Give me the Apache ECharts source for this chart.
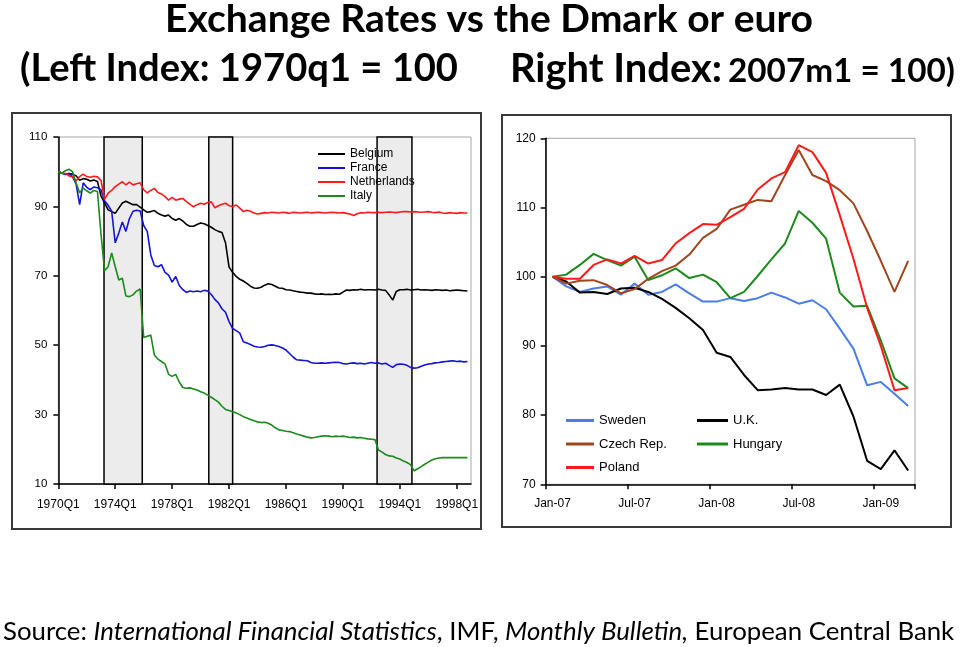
<!DOCTYPE html>
<html>
<head>
<meta charset="utf-8">
<script src="https://cdn.jsdelivr.net/npm/echarts@6/dist/echarts.min.js"></script>
<style>
html,body{margin:0;padding:0;background:#fff;}
#c{width:960px;height:647px;}
</style>
</head>
<body>
<div id="c"></div>
<script>
// ---------- LEFT CHART DATA (quarterly, 1970Q1 = 100) ----------
const leftTickLabels = ['1970Q1','1974Q1','1978Q1','1982Q1','1986Q1','1990Q1','1994Q1','1998Q1'];
const leftSeriesNames = ['Belgium','France','Netherlands','Italy'];
const belgium = [
 100,99.6,99.2,99.5,99.3,98.8,97.5,98.0,97.8,97.3,
 97.6,97.2,93.0,91.0,89.0,88.5,88.0,89.5,91.0,91.5,
 91.0,90.5,90.5,89.8,89.0,88.3,88.5,88.8,88.0,87.5,
 87.2,87.5,86.5,86.0,86.5,85.8,84.8,84.3,84.3,84.8,
 85.2,85.0,84.5,84.0,83.3,82.8,82.5,79.5,72.5,71.0,
 69.8,69.0,68.5,67.8,67.0,66.5,66.4,66.7,67.3,67.7,
 67.5,67.0,66.5,66.4,66.0,65.9,65.7,65.5,65.3,65.2,
 65.0,65.0,64.8,64.7,64.8,64.6,64.7,64.6,64.8,64.7,
 65.3,65.9,65.8,66.0,65.9,66.1,65.9,66.0,66.0,65.9,
 66.1,65.9,65.8,64.5,63.0,65.5,66.0,66.0,66.1,65.9,
 66.0,66.1,65.9,66.0,65.9,65.8,66.0,65.9,65.8,65.9,
 65.7,65.8,65.9,65.8,65.7,65.6];
const france = [
 100,99.6,99.3,99.5,98.6,96.5,90.5,96.8,95.5,94.8,
 95.6,95.4,94.8,91.6,90.3,88.6,79.5,82.3,85.5,82.8,
 86.5,88.6,88.9,88.7,84.5,82.8,76.0,73.0,72.6,73.2,
 71.0,70.2,68.2,69.8,67.2,66.0,65.2,65.6,65.4,65.6,
 65.4,65.8,65.6,64.6,63.2,62.2,60.5,59.5,56.8,54.8,
 54.2,53.5,51.0,50.6,50.2,49.7,49.5,49.4,49.6,50.0,
 50.1,49.9,49.6,49.2,48.6,47.6,46.6,45.8,45.7,45.6,
 45.5,45.0,44.8,44.8,44.9,44.8,44.9,45.0,45.1,45.0,
 44.7,44.6,44.8,44.9,44.7,44.8,44.6,44.8,45.0,44.8,
 44.9,44.6,44.8,44.2,43.6,44.4,44.6,44.5,44.2,43.6,
 43.4,43.5,43.9,44.3,44.6,44.7,44.9,45.0,45.2,45.3,
 45.4,45.5,45.3,45.4,45.2,45.3];
const netherlands = [
 100,99.6,99.5,98.8,98.5,97.3,98.6,99.3,98.6,98.4,
 98.7,98.5,97.5,92.0,93.8,94.6,95.7,96.4,97.1,96.2,
 97.0,96.2,96.5,96.8,94.8,93.9,94.6,95.2,94.0,93.6,
 92.8,91.8,92.6,91.8,92.1,92.3,91.4,90.6,89.9,90.5,
 90.9,90.6,91.1,91.3,89.6,90.2,90.6,90.9,90.2,90.0,
 90.4,89.5,88.5,88.9,88.6,88.1,87.8,88.0,88.2,88.1,
 88.3,88.2,88.1,88.3,88.2,88.0,88.3,88.2,88.1,88.2,
 88.3,88.1,88.2,88.3,88.2,88.1,88.2,88.3,88.2,88.1,
 88.2,88.0,87.8,87.4,87.9,88.2,88.1,88.3,88.2,88.2,
 88.3,88.2,88.3,88.4,88.3,88.2,88.4,88.5,88.5,88.4,
 88.5,88.4,88.3,88.4,88.5,88.3,88.2,88.4,88.1,88.0,
 88.2,88.1,88.0,88.2,88.1,88.1];
const italy = [
 100,99.6,100.3,100.7,100.0,96.8,93.9,95.3,94.5,93.8,
 94.6,94.3,82.0,71.5,72.6,76.6,72.6,68.8,69.3,64.2,
 64.0,64.5,65.6,66.2,52.2,52.6,52.9,47.2,46.0,45.3,
 44.6,41.6,41.0,41.6,39.4,37.8,37.6,37.7,37.4,37.1,
 36.6,36.2,35.6,35.0,34.3,33.6,32.4,31.5,31.2,30.8,
 30.5,30.0,29.4,29.0,28.6,28.2,27.9,27.7,27.8,27.5,
 27.0,26.2,25.6,25.4,25.2,25.1,24.8,24.4,24.1,23.8,
 23.5,23.3,23.4,23.6,23.8,23.9,23.8,23.6,23.8,23.7,
 23.8,23.6,23.4,23.5,23.3,23.4,23.2,23.0,22.9,22.8,
 19.8,19.2,18.5,18.1,18.0,17.5,17.2,16.6,16.2,15.6,
 13.8,14.4,15.0,15.7,16.3,16.9,17.3,17.5,17.6,17.6,
 17.6,17.6,17.6,17.6,17.6,17.6];
// shaded periods, in quarters since 1970Q1
const bands = [[12.85, 23.6], [42.3, 49.0], [89.6, 99.4]];

// ---------- RIGHT CHART DATA (monthly, 2007m1 = 100) ----------
const months = ['Jan-07','Feb-07','Mar-07','Apr-07','May-07','Jun-07','Jul-07','Aug-07','Sep-07','Oct-07','Nov-07','Dec-07',
 'Jan-08','Feb-08','Mar-08','Apr-08','May-08','Jun-08','Jul-08','Aug-08','Sep-08','Oct-08','Nov-08','Dec-08',
 'Jan-09','Feb-09','Mar-09'];
const sweden  = [100,98.6,97.8,98.3,98.6,97.4,99.0,97.4,97.8,98.9,97.6,96.4,96.4,96.9,96.5,96.9,97.7,97.0,96.1,96.6,95.3,92.5,89.6,84.3,84.8,83.1,81.3];
const uk      = [100,99.3,97.7,97.8,97.5,98.3,98.4,97.8,96.8,95.5,94.0,92.3,89.0,88.4,85.8,83.6,83.7,83.9,83.7,83.7,82.9,84.4,79.8,73.4,72.2,74.9,72.0];
const czech   = [100,99.0,99.4,99.5,98.8,97.6,98.2,99.7,100.8,101.6,103.2,105.6,106.9,109.7,110.4,111.1,110.9,114.7,118.3,114.7,113.8,112.5,110.6,106.6,102.3,97.8,102.3];
const hungary = [100,100.3,101.7,103.3,102.4,101.6,102.9,99.5,100.2,101.2,99.8,100.3,99.2,96.9,97.8,100.1,102.5,104.8,109.5,107.8,105.5,97.7,95.7,95.8,90.8,85.3,83.9];
const poland  = [100,99.7,99.7,101.7,102.5,101.9,103.0,101.9,102.4,104.8,106.3,107.6,107.5,108.6,109.8,112.6,114.2,115.1,119.0,118.0,115.0,108.9,102.6,95.5,90.0,83.6,83.9];

// ---------- text ----------
const title1 = 'Exchange Rates vs the Dmark or euro';
const title2a = '(Left Index: 1970q1 = 100';
const title2b = 'Right Index:';
const title2c = '2007m1 = 100)';
const sourceParts = [['n','Source: '],['i','International Financial Statistics'],['n',', IMF, '],['i','Monthly Bulletin,'],['n',' European Central Bank']];

// ---------- font fitting helpers (layout only) ----------
const mctx = document.createElement('canvas').getContext('2d');
function measure(font, text){ mctx.font = font; return mctx.measureText(text).width; }
function fitSize(text, target, weight, style, family){
  const base = 40;
  const w = measure(style + ' ' + weight + ' ' + base + 'px ' + family, text);
  return base * target / w;
}
const TF = 'Lato';
const s1 = fitSize(title1, 648, 'bold', 'normal', TF);
const s2a = fitSize(title2a, 438, 'bold', 'normal', TF);
const s2b = fitSize(title2b, 212, 'bold', 'normal', TF);
const s2c = fitSize(title2c, 227, 'bold', 'normal', TF);
let srcW = 0;
sourceParts.forEach(p => { srcW += measure((p[0]==='i'?'italic':'normal') + ' normal 40px ' + TF, p[1]); });
const sSrc = 40 * 952 / srcW;

function txt(x, y, text, size, weight, align){
  return {type:'text', x:x, y:y, silent:true,
    style:{text:text, fill:'#000', font:'normal ' + weight + ' ' + size.toFixed(2) + 'px ' + TF,
      textAlign:align, textVerticalAlign:'middle', align:align, verticalAlign:'middle'}};
}

const chart = echarts.init(document.getElementById('c'), null, {renderer:'canvas'});
const AX = 'Liberation Sans';

const leftColors = ['#000000','#1414d8','#ff1a1a','#1a8a1a'];
const leftData = [belgium, france, netherlands, italy];
const rightNames = ['Sweden','U.K.','Czech Rep.','Hungary','Poland'];
const rightColors = ['#4a7ee6','#000000','#a0461e','#1e8a1e','#ff1a1a'];
const rightData = [sweden, uk, czech, hungary, poland];

const series = [];
leftData.forEach((arr, k) => {
  const s = {name:leftSeriesNames[k], type:'line', xAxisIndex:0, yAxisIndex:0, symbol:'none', showSymbol:false,
    data: arr.map((v,i)=>[i,v]), color:leftColors[k], lineStyle:{width:1.6, color:leftColors[k]}, z:3, animation:false};
  if(k===0){
    s.markArea = {silent:true, itemStyle:{color:'#ececec', borderColor:'#000', borderWidth:1.5},
      data: bands.map(b => [{xAxis:b[0]},{xAxis:b[1]}])};
  }
  series.push(s);
});
rightData.forEach((arr,k) => {
  series.push({name:rightNames[k], type:'line', xAxisIndex:1, yAxisIndex:1, symbol:'none', showSymbol:false,
    data: arr, color:rightColors[k], lineStyle:{width:2, color:rightColors[k]}, animation:false});
});

const option = {
  backgroundColor:'#fff',
  animation:false,
  grid:[
    {left:58.3, top:137, width:412.7, height:347, show:true, borderColor:'#a6a6a6', borderWidth:1},
    {left:545.7, top:138.3, width:369.3, height:346, show:true, borderColor:'#a6a6a6', borderWidth:1}
  ],
  xAxis:[
    {gridIndex:0, type:'value', min:0, max:116, interval:16,
     axisLine:{show:true, onZero:false, lineStyle:{color:'#000', width:1.5}},
     axisTick:{show:true, length:5, lineStyle:{color:'#000', width:1.5}},
     splitLine:{show:false},
     axisLabel:{color:'#000', fontSize:12, fontFamily:AX, margin:15, showMaxLabel:false,
       formatter: v => leftTickLabels[Math.round(v/16)] || ''}},
    {gridIndex:1, type:'category', data:months, boundaryGap:true,
     axisLine:{show:true, onZero:false, lineStyle:{color:'#000', width:1.5}},
     axisTick:{show:true, interval:5, length:5, lineStyle:{color:'#000', width:1.5}},
     splitLine:{show:false},
     axisLabel:{interval:5, color:'#000', fontSize:12, fontFamily:AX, margin:13}}
  ],
  yAxis:[
    {gridIndex:0, type:'value', min:10, max:110, interval:20,
     axisLine:{show:true, lineStyle:{color:'#000', width:1.5}},
     axisTick:{show:true, length:5, lineStyle:{color:'#000', width:1.5}},
     splitLine:{show:false},
     axisLabel:{color:'#000', fontSize:11.5, fontFamily:AX, margin:11}},
    {gridIndex:1, type:'value', min:70, max:120, interval:10,
     axisLine:{show:true, lineStyle:{color:'#000', width:1.5}},
     axisTick:{show:true, length:5, lineStyle:{color:'#000', width:1.5}},
     splitLine:{show:false},
     axisLabel:{color:'#000', fontSize:12, fontFamily:AX, margin:10}}
  ],
  legend:[
    {data:leftSeriesNames, orient:'vertical', left:318, top:148, itemWidth:27, itemHeight:2, icon:'rect',
     itemGap:2, padding:0, selectedMode:false, textStyle:{fontSize:12, fontFamily:AX, color:'#000'}},
    {data:['Sweden','Czech Rep.','Poland'], orient:'vertical', left:566, top:414, itemWidth:28, itemHeight:3, icon:'rect',
     itemGap:10.5, padding:0, selectedMode:false, textStyle:{fontSize:13, fontFamily:AX, color:'#000'}},
    {data:['U.K.','Hungary'], orient:'vertical', left:697, top:414, itemWidth:31, itemHeight:3, icon:'rect',
     itemGap:10.5, padding:0, selectedMode:false, textStyle:{fontSize:13, fontFamily:AX, color:'#000'}}
  ],
  graphic:[
    {type:'rect', shape:{x:12, y:113, width:469, height:416}, style:{fill:'none', stroke:'#3a3a3a', lineWidth:2}, silent:true},
    {type:'rect', shape:{x:502, y:115, width:449, height:412}, style:{fill:'none', stroke:'#3a3a3a', lineWidth:2}, silent:true},
    txt(489, 19, title1, s1, 'bold', 'center'),
    txt(20, 69, title2a, s2a, 'bold', 'left'),
    txt(510, 69, title2b, s2b, 'bold', 'left'),
    txt(728, 71, title2c, s2c, 'bold', 'left'),
    {type:'text', x:3, y:632, silent:true,
     style:{text: sourceParts.map(p => '{' + p[0] + '|' + p[1] + '}').join(''),
       fill:'#000', font:'normal normal ' + sSrc.toFixed(2) + 'px ' + TF,
       textAlign:'left', textVerticalAlign:'middle', align:'left', verticalAlign:'middle',
       rich:{
         n:{fontSize:sSrc, fontFamily:TF, fontStyle:'normal', fill:'#000', color:'#000'},
         i:{fontSize:sSrc, fontFamily:TF, fontStyle:'italic', fill:'#000', color:'#000'}
       }}}
  ],
  series: series
};
chart.setOption(option);
</script>
</body>
</html>
